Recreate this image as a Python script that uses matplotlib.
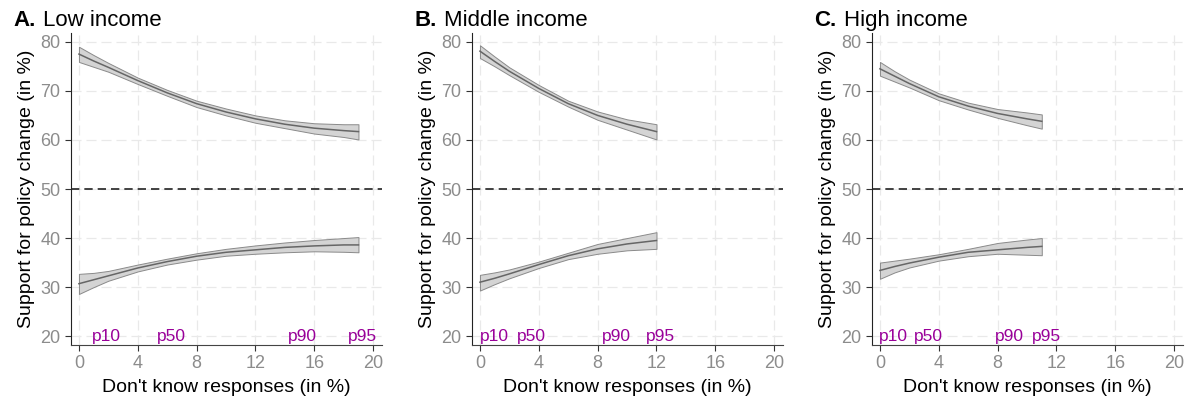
import matplotlib
matplotlib.use("Agg")
import matplotlib.pyplot as plt

plt.rcParams['font.family'] = ['Liberation Sans', 'DejaVu Sans']

# every 2 points of "don't know" share
titles = ["Low income", "Middle income", "High income"]
letters = ["A.", "B.", "C."]

x_low = [0, 1, 2, 4, 6, 8, 10, 12, 14, 16, 18, 19]
up_low = [77.5, 76.1, 74.8, 72.1, 69.6, 67.4, 65.7, 64.3, 63.2, 62.4, 61.9, 61.7]
up_low_hi = [79.0, 77.3, 75.7, 72.7, 70.2, 68.0, 66.4, 65.0, 64.0, 63.4, 63.2, 63.2]
up_low_lo = [75.9, 74.9, 73.9, 71.4, 69.0, 66.7, 65.0, 63.5, 62.4, 61.3, 60.6, 60.1]
dn_low = [30.7, 31.5, 32.3, 33.9, 35.2, 36.3, 37.1, 37.6, 38.1, 38.4, 38.6, 38.6]
dn_low_hi = [32.7, 32.9, 33.3, 34.6, 35.8, 36.9, 37.8, 38.5, 39.1, 39.6, 40.0, 40.2]
dn_low_lo = [28.6, 30.0, 31.3, 33.2, 34.6, 35.6, 36.4, 36.8, 37.1, 37.3, 37.2, 37.1]

x_mid = [0, 1, 2, 4, 6, 8, 10, 12]
up_mid = [78.1, 76.0, 74.0, 70.5, 67.4, 65.0, 63.2, 61.7]
up_mid_hi = [79.3, 77.0, 74.8, 71.2, 68.0, 65.8, 64.2, 63.2]
up_mid_lo = [76.7, 75.0, 73.2, 69.8, 66.8, 64.1, 62.1, 60.1]
dn_mid = [31.0, 31.8, 32.7, 34.6, 36.4, 37.8, 38.8, 39.5]
dn_mid_hi = [32.5, 33.0, 33.6, 35.2, 37.0, 38.8, 40.0, 41.2]
dn_mid_lo = [29.3, 30.6, 31.8, 33.9, 35.7, 36.8, 37.5, 37.8]

x_high = [0, 1, 2, 4, 6, 8, 10, 11]
up_high = [74.5, 73.0, 71.5, 68.8, 66.9, 65.4, 64.3, 63.8]
up_high_hi = [75.9, 74.0, 72.3, 69.5, 67.6, 66.3, 65.6, 65.2]
up_high_lo = [73.1, 71.9, 70.7, 68.1, 66.2, 64.5, 63.0, 62.3]
dn_high = [33.4, 34.2, 34.9, 36.1, 37.1, 37.6, 38.1, 38.3]
dn_high_hi = [35.0, 35.4, 35.8, 36.7, 37.8, 39.0, 39.7, 40.0]
dn_high_lo = [31.7, 33.0, 34.0, 35.4, 36.3, 36.8, 36.6, 36.5]

pct_labels = ["p10", "p50", "p90", "p95"]
pct_low = [1.9, 6.3, 15.2, 19.3]
pct_mid = [1.0, 3.5, 9.3, 12.3]
pct_high = [0.9, 3.3, 8.8, 11.3]

panels = [
    (x_low, up_low, up_low_hi, up_low_lo, dn_low, dn_low_hi, dn_low_lo, pct_low),
    (x_mid, up_mid, up_mid_hi, up_mid_lo, dn_mid, dn_mid_hi, dn_mid_lo, pct_mid),
    (x_high, up_high, up_high_hi, up_high_lo, dn_high, dn_high_hi, dn_high_lo, pct_high),
]

fig = plt.figure(figsize=(11.86, 3.96), dpi=100)
lefts = [71, 472, 872]

for i, (xs, up, uph, upl, dn, dnh, dnl, pct) in enumerate(panels):
    ax = fig.add_axes([lefts[i] / 1186, 1 - 345 / 396, 311 / 1186, 312 / 396])
    ax.set_xlim(-0.54, 20.6)
    ax.set_ylim(18.2, 81.8)
    ax.set_xticks([0, 4, 8, 12, 16, 20])
    ax.set_yticks([20, 30, 40, 50, 60, 70, 80])
    ax.grid(True, color='#e9e9e9', linestyle=(0, (8, 4)), linewidth=0.9)
    ax.set_axisbelow(True)
    for s in ['top', 'right']:
        ax.spines[s].set_visible(False)
    ax.spines['left'].set_color('#222222')
    ax.spines['bottom'].set_color('#444444')
    ax.tick_params(colors='#333333', labelcolor='#8c8c8c', labelsize=13, length=4)

    ax.axhline(50, color='#222222', linestyle=(0, (5, 3)), linewidth=1.2, zorder=2)

    for m, hi, lo in [(up, uph, upl), (dn, dnh, dnl)]:
        ax.fill_between(xs, lo, hi, facecolor='#d4d4d4', edgecolor='#8a8a8a',
                        linewidth=0.7, zorder=3)
        ax.plot(xs, m, color='#666666', linewidth=1.1, zorder=4)

    for lab, px in zip(pct_labels, pct):
        ax.text(px, 20, lab, color='#990099', fontsize=12.5, ha='center', va='center')

    ax.set_xlabel("Don't know responses (in %)", fontsize=14, labelpad=5)
    ax.set_ylabel("Support for policy change (in %)", fontsize=14, labelpad=4)

    x0 = (lefts[i] - 58) / 1186
    fig.text(x0, 1 - 26 / 396, letters[i], fontsize=16, fontweight='bold',
             ha='left', va='baseline')
    fig.text(x0 + 0.025, 1 - 26 / 396, titles[i], fontsize=16, ha='left', va='baseline')

fig.savefig("out.png", dpi=100)
